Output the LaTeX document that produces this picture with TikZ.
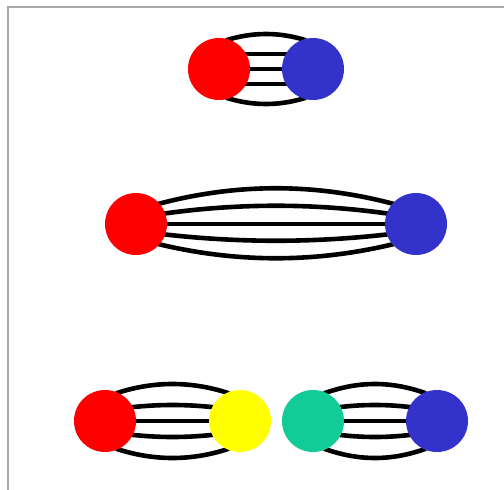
\documentclass[tikz,border=0pt]{standalone}
\usetikzlibrary{calc,backgrounds}
\definecolor{cred}{HTML}{FF0000}
\definecolor{cblue}{HTML}{3333CC}
\definecolor{cyellow}{HTML}{FFFF00}
\definecolor{cgreen}{HTML}{11CC99}
\definecolor{frame}{HTML}{A8A8A8}
\newcommand\bondcurve[6]{\draw[bondline] ($(#1)+(#3,#4)$) .. controls ($(#1)+(#5,#6)$) and ($(#2)+(-#5,#6)$) .. ($(#2)+(-#3,#4)$);}
\tikzset{
  ball/.style={circle, inner sep=0pt, minimum size=62pt, draw=none, fill=#1},
  bondline/.style={line width=4.6pt, black, line cap=round},
  frameline/.style={line width=1.6pt, frame}
}
\begin{document}
\begin{tikzpicture}[x=1pt,y=-1pt]
\useasboundingbox (0,0) rectangle (504,490);
\draw[frameline] (8,490) -- (8,7) -- (504,7);
% top pair
\node[ball=cred]  (r1) at (219,69) {};
\node[ball=cblue] (b1) at (313,69) {};
% middle pair
\node[ball=cred]  (r2) at (136,224) {};
\node[ball=cblue] (b2) at (416,224) {};
% bottom pairs
\node[ball=cred]    (r3) at (105,421) {};
\node[ball=cyellow] (y3) at (240,421) {};
\node[ball=cgreen]  (g3) at (313,421) {};
\node[ball=cblue]   (b3) at (437,421) {};
\begin{scope}[on background layer]
% top
\bondcurve{r1}{b1}{8}{-29}{34}{-37}
\bondcurve{r1}{b1}{20}{-15}{40}{-15}
\bondcurve{r1}{b1}{20}{0}{40}{0}
\bondcurve{r1}{b1}{20}{15}{40}{15}
\bondcurve{r1}{b1}{8}{29}{34}{37}
% middle
\bondcurve{r2}{b2}{22}{-20}{101}{-41}
\bondcurve{r2}{b2}{25}{-10}{102}{-21}
\bondcurve{r2}{b2}{25}{0}{102}{0}
\bondcurve{r2}{b2}{25}{10}{102}{19}
\bondcurve{r2}{b2}{22}{20}{101}{39}
% bottom left
\bondcurve{r3}{y3}{12}{-28}{49}{-40}
\bondcurve{r3}{y3}{20}{-13}{52}{-17}
\bondcurve{r3}{y3}{20}{0}{52}{0}
\bondcurve{r3}{y3}{20}{13}{52}{17}
\bondcurve{r3}{y3}{12}{28}{49}{40}
% bottom right
\bondcurve{g3}{b3}{12}{-28}{46}{-40}
\bondcurve{g3}{b3}{20}{-13}{48}{-17}
\bondcurve{g3}{b3}{20}{0}{48}{0}
\bondcurve{g3}{b3}{20}{13}{48}{17}
\bondcurve{g3}{b3}{12}{28}{46}{40}
\end{scope}
\end{tikzpicture}
\end{document}
